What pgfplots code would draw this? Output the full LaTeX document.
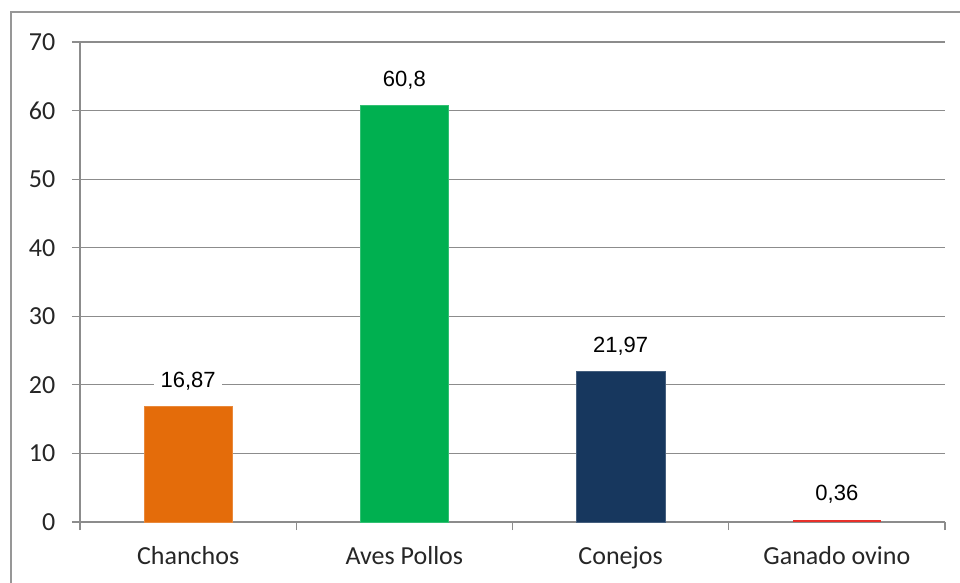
\documentclass[border=0pt]{standalone}
\usepackage{fontspec}
\setmainfont{Carlito}
\newfontfamily\datafont{Liberation Sans}
\usepackage{pgfplots}
\pgfplotsset{compat=1.18}
\definecolor{cOrange}{HTML}{E46C0A}
\definecolor{cGreen}{HTML}{00B050}
\definecolor{cNavy}{HTML}{17375E}
\definecolor{cRed}{HTML}{E8302A}
\definecolor{cGrid}{HTML}{8C8C8C}
\definecolor{cText}{HTML}{262626}
\begin{document}
\begin{tikzpicture}
\useasboundingbox (0,0) rectangle (720pt,436.5pt);
\draw[cGrid!90, line width=1.6pt] (8.25pt,-2pt) -- (8.25pt,427.5pt) -- (725pt,427.5pt);
\begin{axis}[
    at={(60pt,45pt)}, anchor=south west,
    scale only axis,
    width=648.75pt, height=360pt,
    ymin=0, ymax=70, ytick={0,10,...,70},
    xmin=-0.5, xmax=3.5,
    % category boundaries carry the tick marks
    xtick={-0.5,0.5,1.5,2.5,3.5},
    xticklabels={},
    extra x ticks={0,1,2,3},
    extra x tick labels={Chanchos, Aves Pollos, Conejos, Ganado ovino},
    extra x tick style={major tick length=0pt, xticklabel style={yshift=-15pt}},
    axis x line*=bottom, axis y line*=left,
    axis line style={cGrid, line width=0.8pt, -},
    tick align=outside,
    tick style={cGrid, line width=0.8pt},
    major tick length=6pt,
    ymajorgrids, grid style={cGrid, line width=0.8pt},
    ticklabel style={font=\fontsize{19.5pt}{22pt}\selectfont, text=cText},
    yticklabel style={xshift=-9pt},
    /pgf/number format/.cd, use comma, assume math mode=true, 1000 sep={},
    /pgfplots/.cd,
    ybar, bar width=0.41, bar shift=0pt,
    nodes near coords,
    every node near coord/.append style={font=\datafont\fontsize{16.5pt}{18pt}\selectfont,
        text=black, fill=white, inner xsep=5pt, inner ysep=2pt, anchor=south, yshift=10pt},
    clip=false,
]
\addplot[fill=cOrange, draw=cOrange!80!white] coordinates {(0,16.87)};
\addplot[fill=cGreen, draw=cGreen!80!white] coordinates {(1,60.8)};
\addplot[fill=cNavy, draw=cNavy!80!white] coordinates {(2,21.97)};
\addplot[fill=cRed, draw=none] coordinates {(3,0.36)};
\end{axis}
\end{tikzpicture}
\end{document}
